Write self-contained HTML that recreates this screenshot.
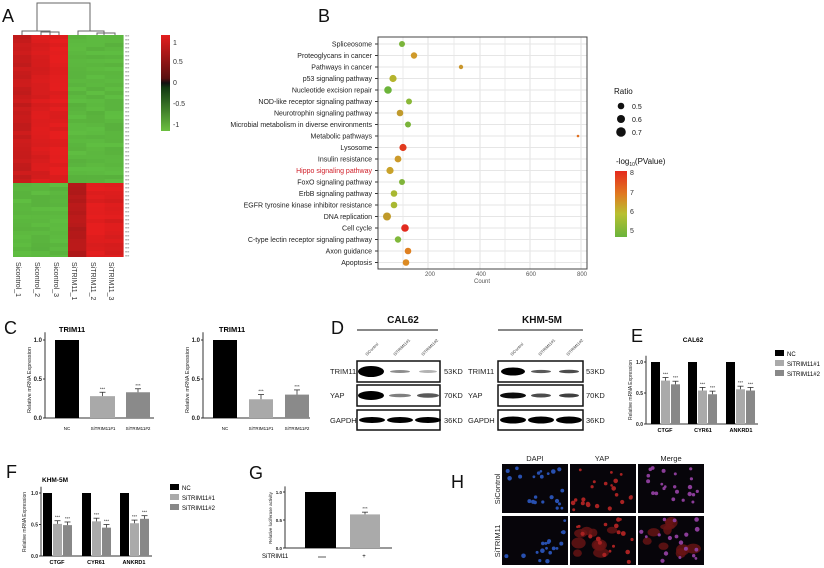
<!DOCTYPE html>
<html><head><meta charset="utf-8"><style>
html,body{margin:0;padding:0;background:#fff}
svg{display:block;font-family:"Liberation Sans",Arial,sans-serif}
</style></head><body>
<svg id="s" width="824" height="568" viewBox="0 0 824 568" xmlns="http://www.w3.org/2000/svg">
<rect width="824" height="568" fill="#fff"/>
<defs>
<linearGradient id="cb1" x1="0" y1="0" x2="0" y2="1">
<stop offset="0" stop-color="#e41e1e"/><stop offset="0.45" stop-color="#5a1010"/><stop offset="0.5" stop-color="#111"/><stop offset="0.55" stop-color="#123a12"/><stop offset="1" stop-color="#6cc040"/></linearGradient>
<linearGradient id="cb2" x1="0" y1="0" x2="0" y2="1">
<stop offset="0" stop-color="#e52a1e"/><stop offset="0.35" stop-color="#e07a20"/><stop offset="0.65" stop-color="#b8c030"/><stop offset="1" stop-color="#6ab43c"/></linearGradient>
</defs>
<g id="g"></g>
<g font-size="18" fill="#111">
<text x="2" y="22">A</text><text x="318" y="22">B</text><text x="4" y="334">C</text>
<text x="331" y="334">D</text><text x="631" y="342">E</text><text x="6" y="478">F</text>
<text x="249" y="479">G</text><text x="451" y="488">H</text></g>
<g stroke="#666" fill="none" stroke-width="1">
<path d="M37 31 V3 H90 V31"/><path d="M22 35 V31 H50 V35"/><path d="M41 35 V32 H59 V35"/>
<path d="M78 35 V31 H104 V35"/><path d="M97 35 V33 H115 V35"/></g>
<rect x="161" y="35" width="9" height="96" fill="url(#cb1)"/>
<g font-size="7" fill="#333"><text x="173" y="45">1</text><text x="173" y="64">0.5</text><text x="173" y="85">0</text><text x="173" y="106">-0.5</text><text x="173" y="127">-1</text></g>
<g font-size="7" fill="#333">
<text transform="translate(16,262) rotate(90)">Sicontrol_1</text>
<text transform="translate(35,262) rotate(90)">Sicontrol_2</text>
<text transform="translate(54,262) rotate(90)">Sicontrol_3</text>
<text transform="translate(72,262) rotate(90)">SiTRIM11_1</text>
<text transform="translate(91,262) rotate(90)">SiTRIM11_2</text>
<text transform="translate(109,262) rotate(90)">SiTRIM11_3</text></g>
<rect x="378" y="37" width="209" height="232" fill="none" stroke="#444" stroke-width="1"/>
<g font-size="6" fill="#555"><text x="425" y="276">200</text><text x="476" y="276">400</text><text x="526" y="276">600</text><text x="577" y="276">800</text><text x="474" y="283">Count</text></g>
<g font-size="8" fill="#111"><text x="614" y="94">Ratio</text>
<circle cx="621" cy="106" r="3.3"/><circle cx="621" cy="119" r="4"/><circle cx="621" cy="132" r="4.8"/>
<text x="632" y="109" font-size="7">0.5</text><text x="632" y="122" font-size="7">0.6</text><text x="632" y="135" font-size="7">0.7</text>
<text x="616" y="164" font-size="8">-log<tspan font-size="5" dy="2">10</tspan><tspan dy="-2">(PValue)</tspan></text></g>
<rect x="615" y="171" width="12" height="66" fill="url(#cb2)"/>
<g font-size="7" fill="#333"><text x="630" y="175">8</text><text x="630" y="195">7</text><text x="630" y="214">6</text><text x="630" y="233">5</text></g>
<g font-size="10" font-weight="bold" fill="#111"><text x="403" y="323" text-anchor="middle">CAL62</text><text x="542" y="323" text-anchor="middle">KHM-5M</text></g>
<line x1="357" y1="330" x2="438" y2="330" stroke="#111"/><line x1="498" y1="330" x2="583" y2="330" stroke="#111"/>
<g font-size="4" fill="#333">
<text transform="translate(367,356) rotate(-45)">SiControl</text><text transform="translate(395,356) rotate(-45)">SiTRIM11#1</text><text transform="translate(423,356) rotate(-45)">SiTRIM11#2</text>
<text transform="translate(512,356) rotate(-45)">SiControl</text><text transform="translate(540,356) rotate(-45)">SiTRIM11#1</text><text transform="translate(568,356) rotate(-45)">SiTRIM11#2</text></g>
<g font-size="7.5" fill="#222">
<text x="330" y="374">TRIM11</text><text x="330" y="398">YAP</text><text x="330" y="423">GAPDH</text>
<text x="444" y="374">53KD</text><text x="444" y="398">70KD</text><text x="444" y="423">36KD</text>
<text x="468" y="374">TRIM11</text><text x="468" y="398">YAP</text><text x="468" y="423">GAPDH</text>
<text x="586" y="374">53KD</text><text x="586" y="398">70KD</text><text x="586" y="423">36KD</text></g>
<g font-size="7.5" fill="#222" text-anchor="middle"><text x="535" y="461">DAPI</text><text x="602" y="461">YAP</text><text x="671" y="461">Merge</text>
<text transform="translate(500,489) rotate(-90)">SiControl</text><text transform="translate(500,541) rotate(-90)">SiTRIM11</text></g>
</svg>
<script>
(function(){
var g=document.getElementById('g'),h='';
function R(x,y,w,hh,f,ex){h+='<rect x="'+x+'" y="'+y+'" width="'+w+'" height="'+hh+'" fill="'+f+'" '+(ex||'')+'/>';}
function T(x,y,t,fs,ex){h+='<text x="'+x+'" y="'+y+'" font-size="'+fs+'" '+(ex||'')+'>'+t+'</text>';}
function L(x1,y1,x2,y2,c,w){h+='<line x1="'+x1+'" y1="'+y1+'" x2="'+x2+'" y2="'+y2+'" stroke="'+(c||'#333')+'" stroke-width="'+(w||1)+'"/>';}
var seed=7;function rnd(){seed=(seed*16807)%2147483647;return (seed-1)/2147483646;}
var cw=110/6;
for(var r=0;r<56;r++){var y=35+r*4,top=y<183;
 for(var c=0;c<6;c++){var x=13+c*cw,col;
  var red=(top&&c<3)||(!top&&c>=3);
  if(red){var base=[0.72,0.88,0.95,0.55,0.95,0.9][c];var v=Math.min(1,base+(rnd()-0.5)*0.15);
    col='rgb('+Math.round(120+110*v)+','+Math.round(20+10*v)+','+Math.round(20+10*v)+')';}
  else{var v2=0.93+rnd()*0.07;col='rgb('+Math.round(95*v2)+','+Math.round(190*v2)+','+Math.round(65*v2)+')';}
  R(x.toFixed(1),y,(cw+0.6).toFixed(1),Math.min(4.3,257-y),col);}}
for(var r=0;r<56;r++)T(125,37+r*4,'\u2261\u2261',3.6,'fill="#777"');
var terms=['Spliceosome','Proteoglycans in cancer','Pathways in cancer','p53 signaling pathway','Nucleotide excision repair','NOD-like receptor signaling pathway','Neurotrophin signaling pathway','Microbial metabolism in diverse environments','Metabolic pathways','Lysosome','Insulin resistance','Hippo signaling pathway','FoxO signaling pathway','ErbB signaling pathway','EGFR tyrosine kinase inhibitor resistance','DNA replication','Cell cycle','C-type lectin receptor signaling pathway','Axon guidance','Apoptosis'];
var dx=[402,414,461,393,388,409,400,408,578,403,398,390,402,394,394,387,405,398,408,406];
var dr=[3,3.2,2.2,3.6,3.8,3,3.3,3,1.3,3.6,3.4,3.6,3,3.3,3.3,4,3.8,3.2,3.3,3.3];
var dc=['#7ab43a','#cf9a2a','#c9962c','#b5b42e','#6cb43a','#8ab838','#c09a2c','#7ab43a','#e07020','#e23a1e','#cc9a2a','#c9a22a','#80b43a','#a8b832','#a8b832','#c09a2a','#e22a1e','#80b83a','#df8020','#dc8a22'];
var gx=[403,428,454,480,505,530,555,581];
for(var i=0;i<gx.length;i++)L(gx[i],37,gx[i],269,'#e6e6e6',i%2?1.2:0.8);
for(var i=0;i<20;i++){var y=44+i*11.5;L(378,y,587,y,'#e6e6e6',1);}
for(var i=0;i<20;i++){var y=44+i*11.5;L(375,y,378,y,'#333',1);
 T(372,y+2.5,terms[i],7,'text-anchor="end" fill="'+(i==11?'#d0202a':'#222')+'"');
 h+='<circle cx="'+dx[i]+'" cy="'+y+'" r="'+dr[i]+'" fill="'+dc[i]+'"/>';}
function axisY(x,y0,y1,ticks,ymax,fs){L(x,y0-(y0-y1)*1.1,x,y0,'#333',1);
 for(var k=0;k<ticks.length;k++){var yy=y0-(y0-y1)*ticks[k]/ymax;L(x-2,yy,x,yy);T(x-3,yy+2,ticks[k].toFixed(1),fs,'text-anchor="end" font-weight="bold" fill="#222"');}}
function bar(x,w,y0,y1,v,col,err,star){var top=y0-(y0-y1)*v;R(x,top,w,y0-top,col);
 if(err){var e=(y0-y1)*err;L(x+w/2,top,x+w/2,top-e,'#333',0.8);L(x+w/2-3,top-e,x+w/2+3,top-e,'#333',0.8);}
 if(star)T(x+w/2,top-(err?(y0-y1)*err:0)-2,'***',4.5,'text-anchor="middle" fill="#333"');}
T(72,332,'TRIM11',7.5,'text-anchor="middle" font-weight="bold"');
axisY(45,418,340,[0,0.5,1],1,6);L(45,418,154,418);
bar(55,24,418,340,1,'#000');bar(90,25,418,340,0.28,'#a9a9a9',0.05,1);bar(126,24,418,340,0.33,'#8a8a8a',0.045,1);
T(67,430,'NC',4.5,'text-anchor="middle"');T(103,430,'SiTRIM11#1',4.5,'text-anchor="middle"');T(138,430,'SiTRIM11#2',4.5,'text-anchor="middle"');
h+='<text transform="translate(31,380) rotate(-90)" font-size="5.5" text-anchor="middle" fill="#222">Relative mRNA Expression</text>';
T(232,332,'TRIM11',7.5,'text-anchor="middle" font-weight="bold"');
axisY(203,418,340,[0,0.5,1],1,6);L(203,418,310,418);
bar(213,24,418,340,1,'#000');bar(249,24,418,340,0.24,'#a9a9a9',0.06,1);bar(285,24,418,340,0.3,'#8a8a8a',0.06,1);
T(225,430,'NC',4.5,'text-anchor="middle"');T(261,430,'SiTRIM11#1',4.5,'text-anchor="middle"');T(297,430,'SiTRIM11#2',4.5,'text-anchor="middle"');
h+='<text transform="translate(189,380) rotate(-90)" font-size="5.5" text-anchor="middle" fill="#222">Relative mRNA Expression</text>';
T(693,342,'CAL62',6.5,'text-anchor="middle" font-weight="bold"');
axisY(646,424,362,[0,0.5,1],1,5);L(646,424,758,424);
var E=[[0.7,0.64],[0.54,0.48],[0.56,0.54]],ex=[651,688,726];
for(var i=0;i<3;i++){bar(ex[i],9,424,362,1,'#000');bar(ex[i]+10,9,424,362,E[i][0],'#aaa',0.05,1);bar(ex[i]+20,9,424,362,E[i][1],'#888',0.05,1);}
T(665,432,'CTGF',5.5,'text-anchor="middle" font-weight="bold"');T(703,432,'CYR61',5.5,'text-anchor="middle" font-weight="bold"');T(741,432,'ANKRD1',5.5,'text-anchor="middle" font-weight="bold"');
h+='<text transform="translate(632,390) rotate(-90)" font-size="5" text-anchor="middle" fill="#222">Relative mRNA Expression</text>';
R(775,350,9,6,'#000');R(775,360,9,6,'#aaa');R(775,370,9,6,'#888');
T(787,356,'NC',6);T(787,366,'SiTRIM11#1',6);T(787,376,'SiTRIM11#2',6);
T(55,482,'KHM-5M',6.5,'text-anchor="middle" font-weight="bold"');
axisY(41,556,493,[0,0.5,1],1,5);L(41,556,152,556);
var F=[[0.51,0.49],[0.55,0.45],[0.52,0.59]],fx=[43,82,120];
for(var i=0;i<3;i++){bar(fx[i],9,556,493,1,'#000');bar(fx[i]+10,9,556,493,F[i][0],'#aaa',0.05,1);bar(fx[i]+20,9,556,493,F[i][1],'#888',0.05,1);}
T(57,564,'CTGF',5.5,'text-anchor="middle" font-weight="bold"');T(96,564,'CYR61',5.5,'text-anchor="middle" font-weight="bold"');T(134,564,'ANKRD1',5.5,'text-anchor="middle" font-weight="bold"');
h+='<text transform="translate(26,522) rotate(-90)" font-size="5" text-anchor="middle" fill="#222">Relative mRNA Expression</text>';
R(170,484,9,6,'#000');R(170,494,9,6,'#aaa');R(170,504,9,6,'#888');
T(182,490,'NC',6);T(182,500,'SiTRIM11#1',6);T(182,510,'SiTRIM11#2',6);
axisY(285,548,492,[0,0.5,1],1,4.5);L(285,548,392,548);
bar(305,31,548,492,1,'#000');bar(350,30,548,492,0.6,'#aaa',0.04,1);
T(262,558,'SiTRIM11',6);L(318,557,326,557,'#333',0.8);T(364,558,'+',6,'text-anchor="middle"');
h+='<text transform="translate(272,518) rotate(-90)" font-size="4.5" text-anchor="middle" fill="#222">Relative luciferase activity</text>';
function blot(x,y,w,hh,bands){R(x,y,w,hh,'#fff','stroke="#111" stroke-width="1.5"');
 for(var i=0;i<bands.length;i++){var b=bands[i];h+='<ellipse cx="'+b[0]+'" cy="'+(y+hh/2)+'" rx="'+b[1]+'" ry="'+b[2]+'" fill="#000" opacity="'+b[3]+'"/>';}}
blot(357,361,83,21,[[371,13,5.5,1],[400,10,1.5,0.45],[428,9,1.5,0.3]]);
blot(357,385,83,21,[[371,13,4.5,1],[400,11,1.8,0.5],[428,11,2.3,0.65]]);
blot(357,410,83,20,[[372,13,3,1],[400,13,3,1],[428,13,3,1]]);
blot(498,361,85,21,[[513,12,4,1],[541,10,1.6,0.65],[569,10,1.8,0.7]]);
blot(498,385,85,21,[[513,13,3,0.95],[541,10,2,0.7],[569,10,2,0.75]]);
blot(498,410,85,20,[[513,13,3.5,1],[541,13,3.5,1],[569,13,3.5,1]]);
var cx=[502,570,638],cy=[464,516];
for(var r=0;r<2;r++)for(var c=0;c<3;c++){var x=cx[c],y=cy[r];R(x,y,66,49,'#07050a');
 if(r==1&&c>0){for(var k=0;k<10;k++){var px=x+6+rnd()*54,py=y+6+rnd()*37;h+='<ellipse cx="'+px.toFixed(1)+'" cy="'+py.toFixed(1)+'" rx="'+(4+rnd()*4).toFixed(1)+'" ry="'+(3+rnd()*3).toFixed(1)+'" fill="#6a1414" opacity="0.8"/>';}}
 var n=r==0?22:18;
 for(var k=0;k<n;k++){var px=x+3+rnd()*60,py=y+3+rnd()*43,col=c==0?'#2850b0':(c==1?'#a82222':'#8a3c98');
  h+='<circle cx="'+px.toFixed(1)+'" cy="'+py.toFixed(1)+'" r="'+(1.3+rnd()*1.1).toFixed(1)+'" fill="'+col+'"/>';}}
g.innerHTML=h;
})();
</script>
</body></html>
